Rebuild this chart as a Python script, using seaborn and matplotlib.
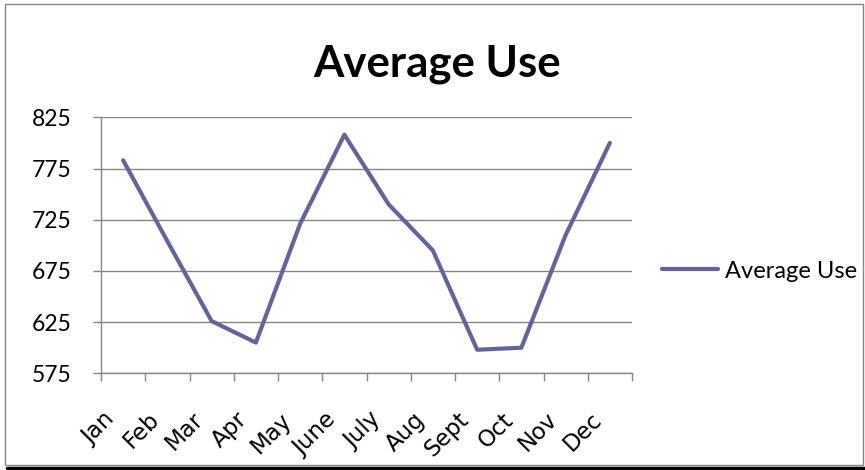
import matplotlib
matplotlib.use("Agg")
import matplotlib.pyplot as plt
import matplotlib.transforms as mtransforms
import seaborn as sns
import pandas as pd
from matplotlib.patches import Rectangle
from matplotlib.lines import Line2D

months = ["Jan", "Feb", "Mar", "Apr", "May", "June", "July", "Aug", "Sept", "Oct", "Nov", "Dec"]
average_use = [783, 704, 626, 605, 721, 808, 740, 695, 598, 600, 710, 800]
y_ticks = [575, 625, 675, 725, 775, 825]
series_name = "Average Use"

sns.set_theme(style="white")
plt.rcParams["font.family"] = ["Lato", "DejaVu Sans"]
plt.rcParams["text.color"] = "black"
plt.rcParams["xtick.color"] = "black"
plt.rcParams["ytick.color"] = "black"

W, H = 865, 470
fig = plt.figure(figsize=(W / 100, H / 100), dpi=100)
ax = fig.add_axes([101 / W, 1 - 373.3 / H, (632 - 101) / W, (373.3 - 117.3) / H])

df = pd.DataFrame({"Month": months, series_name: average_use})
line_color = "#64649D"
sns.lineplot(data=df, x="Month", y=series_name, ax=ax, color=line_color,
             linewidth=3.0, sort=False, label=series_name, legend=False,
             solid_capstyle="round", solid_joinstyle="round")

ax.set_xlim(-0.5, len(months) - 0.5)
ax.set_ylim(y_ticks[0], y_ticks[-1])
ax.set_yticks(y_ticks)
ax.set_yticklabels([str(v) for v in y_ticks], fontsize=16.5)
ax.set_xticks(range(len(months)))
ax.set_xticklabels(months, rotation=45, ha="right", va="top", rotation_mode="anchor",
                   fontsize=16.5, family="DejaVu Sans")
ax.set_xticks([i - 0.5 for i in range(len(months) + 1)], minor=True)
ax.tick_params(axis="x", which="major", length=0, pad=25)
ax.tick_params(axis="x", which="minor", length=6, width=1, color="#868686",
               direction="out", bottom=True)
ax.tick_params(axis="y", length=6, width=1, color="#868686", direction="out",
               left=True, labelcolor="black", pad=15)
ax.set_xlabel("")
ax.set_ylabel("")

# shift month labels a little left of their category centres
shift = mtransforms.ScaledTranslation(-20 / 100, 0, fig.dpi_scale_trans)
for lab in ax.get_xticklabels():
    lab.set_transform(lab.get_transform() + shift)

ax.grid(axis="y", color="#868686", linewidth=1)
ax.grid(axis="x", visible=False)
for side in ["top", "right"]:
    ax.spines[side].set_visible(False)
for side in ["left", "bottom"]:
    ax.spines[side].set_color("#868686")
    ax.spines[side].set_linewidth(1)

fig.text(437 / W, 1 - 76 / H, "Average Use", ha="center", va="baseline",
         fontsize=31.5, fontweight="bold", color="black")

handle = Line2D([0], [0], color=line_color, linewidth=3.0, solid_capstyle="round")
fig.legend([handle], [series_name], loc="center left",
           bbox_to_anchor=(653 / W, 1 - 271 / H), frameon=False,
           fontsize=17, handlelength=2.35, handletextpad=0.3, borderaxespad=0,
           labelcolor="black")

# chart frame
fig.patches.append(Rectangle((5 / W, 5 / H), 858 / W, 461 / H, transform=fig.transFigure,
                             fill=False, edgecolor="#868686", linewidth=1))
fig.lines.append(Line2D([7 / W, 1], [2 / H, 2 / H], transform=fig.transFigure,
                        color="black", linewidth=2.5))

fig.savefig("out.png", dpi=100)
